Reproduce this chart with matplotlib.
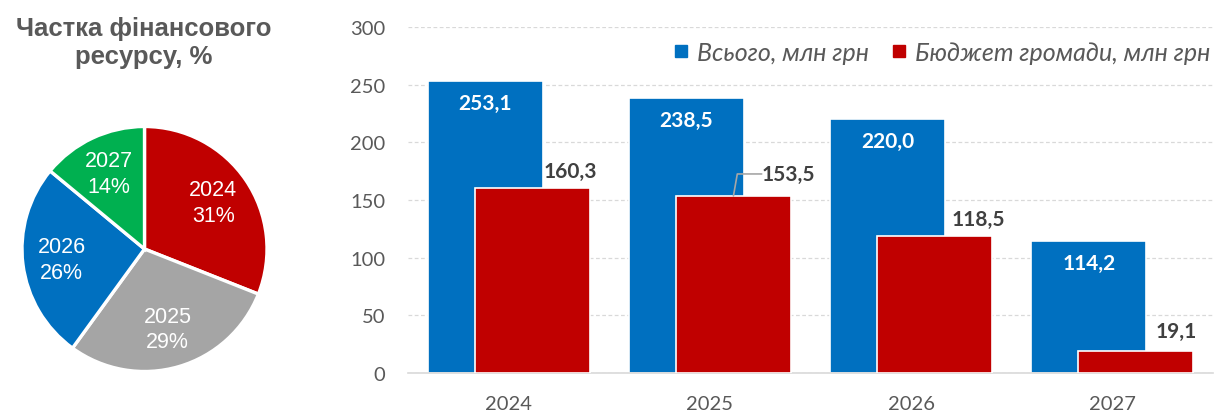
import matplotlib
matplotlib.use("Agg")
import matplotlib.pyplot as plt
import numpy as np
from matplotlib.lines import Line2D

# ---- data ----
years = ["2024", "2025", "2026", "2027"]
total = [253.1, 238.5, 220.0, 114.2]
budget = [160.3, 153.5, 118.5, 19.1]
share_pct = [31, 29, 26, 14]
series_names = ["Всього, млн грн", "Бюджет громади, млн грн"]
title_text = "Частка фінансового\nресурсу, %"
yticks = [0, 50, 100, 150, 200, 250, 300]

# ---- style ----
BLUE = "#0070C0"
RED = "#C00000"
GREY = "#A5A5A5"
GREEN = "#00B050"
TXT = "#595959"
DARK = "#404040"
NUM_FONT = ["Lato", "DejaVu Sans"]
LEG_FONT = ["Lato", "Noto Sans", "DejaVu Sans"]

def fmt(v):
    return f"{v:.1f}".replace(".", ",")

W, H = 1216, 414
fig = plt.figure(figsize=(W / 100, H / 100), dpi=100)

# ---- pie ----
cx, cy, r = 144.5, 250, 122.5
pax = fig.add_axes([(cx - r) / W, 1 - (cy + r) / H, 2 * r / W, 2 * r / H])
labels = [f"{y}\n{p}%" for y, p in zip(years, share_pct)]
wedges, texts = pax.pie(share_pct, colors=[RED, GREY, BLUE, GREEN], startangle=90,
                        counterclock=False, labels=labels, labeldistance=0.68,
                        wedgeprops=dict(edgecolor="white", linewidth=2.4),
                        textprops=dict(color="white", fontsize=15.5,
                                       family=["Liberation Sans", "DejaVu Sans"]))
for t in texts:
    t.set_ha("center")
    t.set_va("center")
    t.set_linespacing(1.3)
pax.set_xlim(-1.0, 1.0)
pax.set_ylim(-1.0, 1.0)

fig.text(144 / W, 1 - 43 / H, title_text, ha="center", va="center", fontsize=18.5,
         fontweight="bold", color=TXT, linespacing=1.25,
         family=["Liberation Sans", "DejaVu Sans"])

# ---- bars ----
left, right, bottom, top = 408, 1213, 374, 28
ax = fig.add_axes([left / W, 1 - bottom / H, (right - left) / W, (bottom - top) / H])
x = np.arange(len(years))
bw = 0.572
off = 0.117
b1 = ax.bar(x - off, total, bw, color=BLUE, edgecolor="white", linewidth=1.2, zorder=2)
b2 = ax.bar(x + off, budget, bw, color=RED, edgecolor="white", linewidth=1.2, zorder=3)

ax.set_xlim(-0.5, 3.5)
ax.set_ylim(0, 300)
ax.set_yticks(yticks)
ax.set_xticks(x)
ax.set_xticklabels(years)
ax.tick_params(length=0, labelsize=14.5, labelcolor=TXT)
ax.tick_params(axis="y", pad=16.5)
ax.tick_params(axis="x", pad=16)
for lab in ax.get_xticklabels() + ax.get_yticklabels():
    lab.set_family(NUM_FONT)
ax.yaxis.grid(True, color="#D9D9D9", linestyle=(0, (3, 2)), linewidth=0.9, zorder=0)
ax.set_axisbelow(True)
for s in ["top", "right", "left"]:
    ax.spines[s].set_visible(False)
ax.spines["bottom"].set_color("#D9D9D9")
ax.spines["bottom"].set_linewidth(1.2)
ax.patch.set_alpha(0)

# data labels
for xi, v in zip(x, total):
    ax.annotate(fmt(v), xy=(xi - off, v), xytext=(0, -22), textcoords="offset pixels",
                ha="center", va="center", fontsize=15, fontweight="bold",
                color="white", family=NUM_FONT, zorder=5)

red_dx = [38, 55, 44, 40]
red_dy = [17, 22, 17, 20]
for i, (xi, v) in enumerate(zip(x, budget)):
    kw = {}
    if i == 1:
        kw["arrowprops"] = dict(arrowstyle="-", color="#A6A6A6", lw=1.2,
                                shrinkA=0, shrinkB=0,
                                connectionstyle="angle,angleA=0,angleB=80,rad=0",
                                relpos=(0, 0.5), patchA=None)
    ax.annotate(fmt(v), xy=(xi + off, v), xytext=(red_dx[i], red_dy[i]),
                textcoords="offset pixels", ha="center", va="center", fontsize=15,
                fontweight="bold", color=DARK, family=NUM_FONT, zorder=5, **kw)

handles = [Line2D([], [], marker="s", linestyle="none", color=BLUE, markersize=8),
           Line2D([], [], marker="s", linestyle="none", color=RED, markersize=8)]
leg = ax.legend(handles, series_names, ncol=2, loc="center right",
                bbox_to_anchor=(1.0, 0.926), frameon=False, borderpad=0.1,
                borderaxespad=0, handlelength=0.6, handletextpad=0.35,
                columnspacing=0.9,
                prop=dict(family=LEG_FONT, style="italic", size=18))
for t in leg.get_texts():
    t.set_color(TXT)

fig.savefig("out.png", dpi=100)
